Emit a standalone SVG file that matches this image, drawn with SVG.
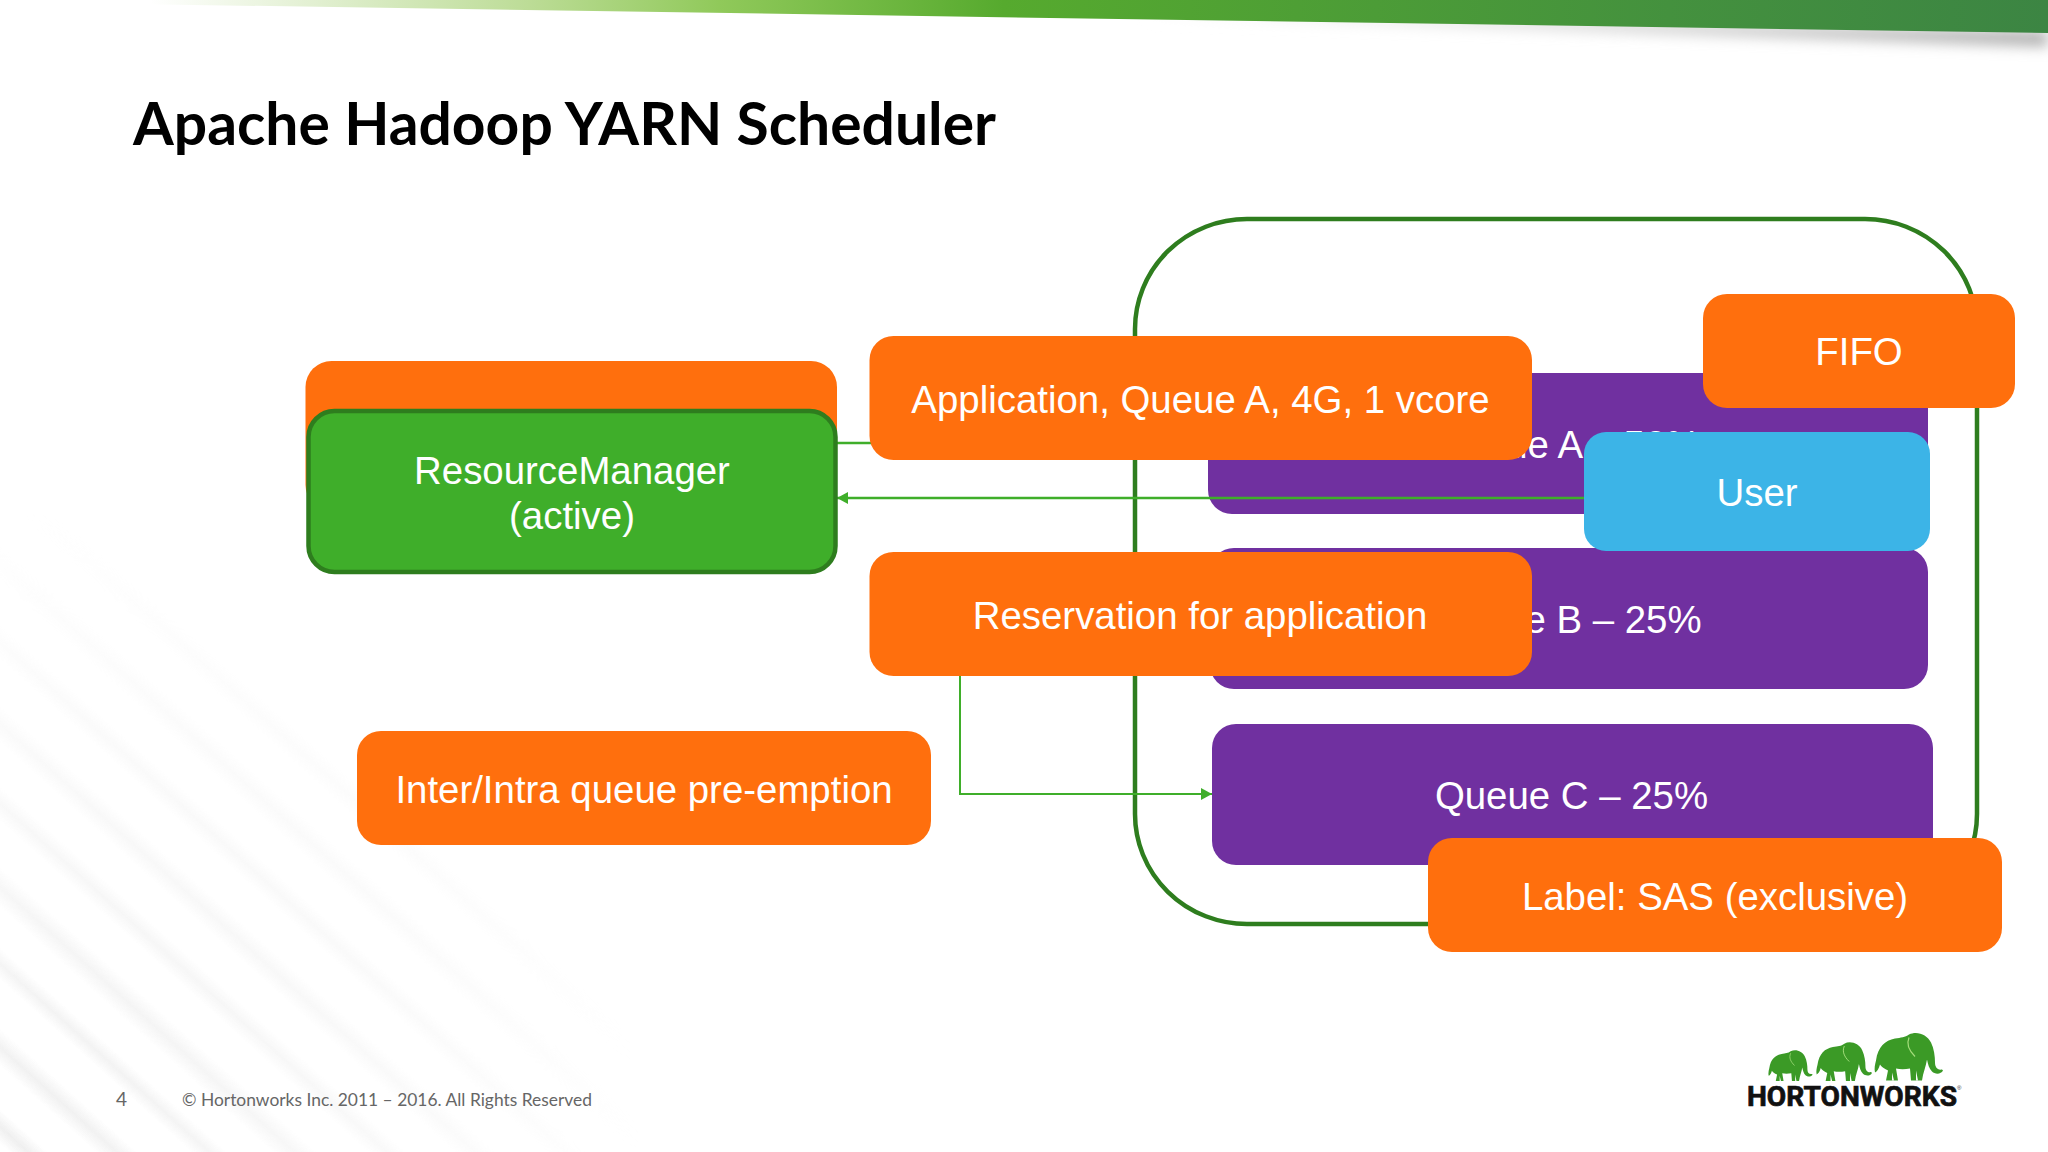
<svg xmlns="http://www.w3.org/2000/svg" width="2048" height="1152" viewBox="0 0 2048 1152">
<defs>
<linearGradient id="bar" x1="150" y1="0" x2="2048" y2="0" gradientUnits="userSpaceOnUse">
<stop offset="0" stop-color="#ffffff"/><stop offset="0.2" stop-color="#bcdc96"/><stop offset="0.3" stop-color="#90c95a"/><stop offset="0.45" stop-color="#56aa2e"/><stop offset="0.8" stop-color="#44913e"/><stop offset="1" stop-color="#3c8543"/>
</linearGradient>
<linearGradient id="shade" x1="1100" y1="0" x2="2048" y2="0" gradientUnits="userSpaceOnUse">
<stop offset="0" stop-color="#fff"/><stop offset="1" stop-color="#a8a8a8"/>
</linearGradient>
<linearGradient id="stripe" x1="0" y1="0" x2="0" y2="1">
<stop offset="0" stop-color="#e8e8e8" stop-opacity="0"/><stop offset="0.5" stop-color="#e8e8e8" stop-opacity="0.7"/><stop offset="1" stop-color="#e8e8e8" stop-opacity="0"/>
</linearGradient>
<radialGradient id="fade" gradientUnits="userSpaceOnUse" cx="0" cy="1152" r="640">
<stop offset="0" stop-color="#fff"/><stop offset="0.4" stop-color="#888"/><stop offset="1" stop-color="#000"/>
</radialGradient>
<mask id="fadeMask"><rect width="2048" height="1152" fill="url(#fade)"/></mask>
<clipPath id="qa"><rect x="1500" y="373" width="428" height="141"/></clipPath>
<filter id="blur" x="-10%" y="-100%" width="120%" height="400%"><feGaussianBlur stdDeviation="7"/></filter>
<filter id="soft" x="-10%" y="-10%" width="120%" height="120%"><feGaussianBlur stdDeviation="0.5"/></filter>
<marker id="arrow" markerUnits="userSpaceOnUse" markerWidth="12" markerHeight="12" refX="11" refY="6" orient="auto-start-reverse"><path d="M0 0L11 6L0 12Z" fill="#3fae2a"/></marker>
<symbol id="ele" viewBox="0 0 70 48" overflow="visible">
<path d="M3 28C5 14 12 8 22 6C28 5 32 5 36 2C44 -2 54 2 58 10C61 16 62 24 62 30C62 34 64 38 69 37L70 38C68 42 62 42 59 39C56 36 55 32 54 27C53 34 50 40 49 48L38 48L37 36C32 37 27 37 23 36L25 48L13 48L15 38C11 36 8 34 7 32C6 36 4 39 2 40C1 36 2 32 3 28Z"/>
<path d="M43 48L43 38L45 48ZM19 48L19 40L21 48Z" fill="#fff"/>
<path d="M36 5C33 12 36 18 42 24" fill="none" stroke="#a5dd7a" stroke-width="1.200"/>
</symbol>
</defs>
<style>
.o{fill:#ff6f0d}.p{fill:#7030a0}
.t{font-family:"Liberation Sans",Arial,sans-serif;font-size:38.400px;fill:#fff;text-anchor:middle}
.c{fill:none;stroke:#3fae2a;stroke-width:2.500}
.f{font-family:"Lato","Open Sans",sans-serif;fill:#666}
.ele{fill:#3a9a28}
</style>
<rect width="2048" height="1152" fill="#fff"/>
<g id="background" mask="url(#fadeMask)">
<g fill="url(#stripe)" transform="rotate(42 0 1152)">
<rect x="-600" y="1120" width="1700" height="26"/>
<rect x="-600" y="1060" width="1700" height="28"/>
<rect x="-600" y="1000" width="1700" height="24"/>
<rect x="-600" y="940" width="1700" height="30"/>
<rect x="-600" y="880" width="1700" height="26"/>
<rect x="-600" y="820" width="1700" height="28"/>
<rect x="-600" y="760" width="1700" height="26"/>
<rect x="-600" y="700" width="1700" height="28"/>
<rect x="-600" y="640" width="1700" height="26"/>
<rect x="-600" y="1180" width="1700" height="28"/>
<rect x="-600" y="1240" width="1700" height="28"/>
</g>
</g>
<g id="banner">
<polygon points="1150,12 2048,32 2048,46 1150,16" fill="url(#shade)" filter="url(#blur)"/>
<polygon points="0,0 2048,0 2048,33 0,2" fill="url(#bar)"/>
</g>
<text id="title" x="133" y="145" font-family="Lato,'Open Sans',sans-serif" font-weight="700" font-size="60" fill="#000" textLength="863" lengthAdjust="spacingAndGlyphs">Apache Hadoop YARN Scheduler</text>
<g id="container"><rect x="1135" y="219" width="842" height="705" rx="112" ry="110" fill="none" stroke="#2e7d1e" stroke-width="4.500"/></g>
<g id="rm-standby"><rect x="305.500" y="361" width="531.500" height="150" rx="26" class="o"/></g>
<g id="queue-a"><rect x="1208" y="373" width="720" height="141" rx="24" class="p"/><text x="1567" y="458" class="t" clip-path="url(#qa)">Queue A – 50%</text></g>
<g id="queue-b"><rect x="1210" y="548" width="718" height="141" rx="24" class="p"/><text x="1566" y="633" class="t">Queue B – 25%</text></g>
<g id="queue-c"><rect x="1212" y="724" width="721" height="141" rx="24" class="p"/><text x="1571.500" y="809" class="t">Queue C – 25%</text></g>
<g id="connectors">
<line x1="837" y1="443" x2="872" y2="443" class="c"/>
<line x1="1586" y1="498" x2="837" y2="498" class="c" marker-end="url(#arrow)"/>
<polyline points="960,675 960,794 1212,794" class="c" style="stroke-width:2" marker-end="url(#arrow)"/>
</g>
<g id="rm-active"><rect x="308.500" y="411" width="527" height="161" rx="26" fill="#3fae2a" stroke="#2e7d1e" stroke-width="4.500"/><text x="572" y="484" class="t">ResourceManager</text><text x="572" y="529" class="t">(active)</text></g>
<g id="application"><rect x="869.500" y="336" width="662.500" height="124" rx="24" class="o"/><text x="1200.500" y="412.500" class="t">Application, Queue A, 4G, 1 vcore</text></g>
<g id="reservation"><rect x="869.500" y="552" width="662.500" height="124" rx="24" class="o"/><text x="1200" y="628.500" class="t">Reservation for application</text></g>
<g id="preemption"><rect x="357" y="731" width="574" height="114" rx="24" class="o"/><text x="644" y="803" class="t">Inter/Intra queue pre-emption</text></g>
<g id="fifo"><rect x="1703" y="294" width="312" height="114" rx="24" class="o"/><text x="1859" y="365" class="t">FIFO</text></g>
<g id="user"><rect x="1584" y="432" width="346" height="119" rx="22" fill="#3cb4e7"/><text x="1757" y="506" class="t">User</text></g>
<g id="label"><rect x="1428" y="838" width="574" height="114" rx="24" class="o"/><text x="1715" y="910" class="t">Label: SAS (exclusive)</text></g>
<g id="footer">
<text x="116" y="1106" class="f" font-size="19">4</text>
<text x="182" y="1106" class="f" font-size="17.500" textLength="410" lengthAdjust="spacingAndGlyphs">© Hortonworks Inc. 2011 – 2016. All Rights Reserved</text>
</g>
<g id="logo">
<g filter="url(#soft)">
<use href="#ele" x="1767" y="1050" width="46" height="31" class="ele"/>
<use href="#ele" x="1815" y="1042" width="57" height="39" class="ele"/>
<use href="#ele" x="1873" y="1032" width="70" height="49" class="ele"/>
</g>
<text x="1747" y="1106" font-family="'Liberation Sans Narrow','Roboto',sans-serif" font-weight="700" font-size="28" fill="#111" stroke="#111" stroke-width="0.700" textLength="210" lengthAdjust="spacingAndGlyphs">HORTONWORKS</text>
<text x="1957" y="1090" font-family="'Liberation Sans',sans-serif" font-size="6" fill="#333">®</text>
</g>
</svg>
